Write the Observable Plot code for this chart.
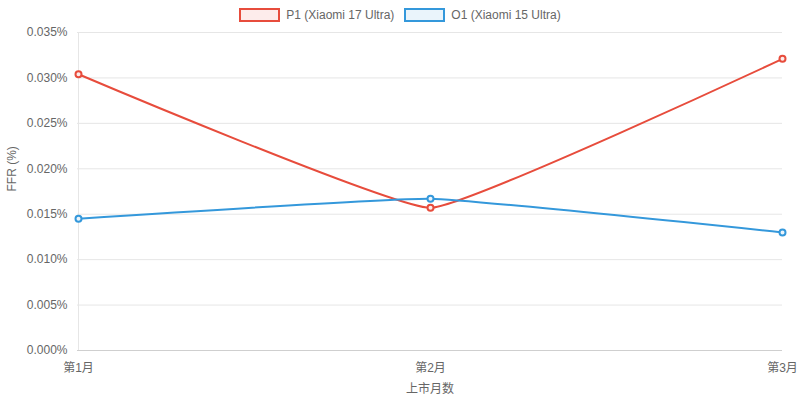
<!DOCTYPE html>
<html><head><meta charset="utf-8">
<script src="https://cdn.jsdelivr.net/npm/d3@7"></script>
<script src="https://cdn.jsdelivr.net/npm/@observablehq/plot@0.6"></script>
<style>
body{margin:0;background:#fff;font-family:"Liberation Sans",Arial,"Noto Sans CJK SC",sans-serif;}
#wrap{position:relative;width:800px;height:401px;}
#legend{position:absolute;top:8px;left:0;width:800px;display:flex;justify-content:center;gap:10px;font-size:12px;color:#666;}
.item{display:flex;align-items:center;gap:6px;}
.sw{width:37px;height:10px;border:2px solid;box-sizing:content-box;}
</style></head>
<body><div id="wrap"><div id="legend"></div></div>
<script>
const months = ["第1月","第2月","第3月"];
const seriesNames = ["P1 (Xiaomi 17 Ultra)","O1 (Xiaomi 15 Ultra)"];
const p1Values = [0.0304,0.0157,0.0321];
const o1Values = [0.0145,0.0167,0.0130];
const colors = ["#e74c3c","#3498db"];
const fills = ["#fdeceb","#eaf4fb"];
const yTicks = [0,0.005,0.01,0.015,0.02,0.025,0.03,0.035];

const data = [];
months.forEach((m,i)=>{
  data.push({month:m, series:seriesNames[0], value:p1Values[i]});
  data.push({month:m, series:seriesNames[1], value:o1Values[i]});
});

const chart = Plot.plot({
  width:800, height:401,
  marginLeft:77, marginRight:18, marginTop:32, marginBottom:51,
  style:{fontFamily:'"Liberation Sans",Arial,"Noto Sans CJK SC",sans-serif', fontSize:"12px", color:"#666", background:"#fff"},
  x:{type:"point", domain:months, padding:0, label:null},
  y:{domain:[0,0.035], label:null},
  color:{domain:seriesNames, range:colors},
  marks:[
    Plot.ruleY(yTicks.slice(1), {stroke:"#e6e6e6", strokeWidth:1}),
    Plot.ruleX([months[0]], {stroke:"#e6e6e6"}),
    Plot.ruleY([0], {stroke:"#cfcfcf"}),
    Plot.axisY({ticks:yTicks, tickFormat:d=>d3.format(".3f")(d)+"%", tickSize:0, tickPadding:10, fill:"#666", fontSize:12, label:null}),
    Plot.axisX({tickSize:0, tickPadding:13, fill:"#666", fontSize:12, label:null}),
    Plot.text(["FFR (%)"], {frameAnchor:"left", dx:-65, rotate:-90, fill:"#666", fontSize:12}),
    Plot.text(["上市月数"], {frameAnchor:"bottom", dy:42, fill:"#666", fontSize:12}),
    Plot.line(data, {x:"month", y:"value", z:"series", stroke:"series", strokeWidth:2, curve:"cardinal", tension:0.7}),
    Plot.dot(data, {x:"month", y:"value", stroke:"series", fill:d=>fills[seriesNames.indexOf(d.series)], r:3, strokeWidth:2})
  ]
});
document.getElementById("wrap").appendChild(chart);

const lg = document.getElementById("legend");
seriesNames.forEach((s,i)=>{
  const it=document.createElement("div");it.className="item";
  const sw=document.createElement("div");sw.className="sw";sw.style.borderColor=colors[i];sw.style.background=fills[i];
  const t=document.createElement("span");t.textContent=s;
  it.appendChild(sw);it.appendChild(t);lg.appendChild(it);
});
</script></body></html>
